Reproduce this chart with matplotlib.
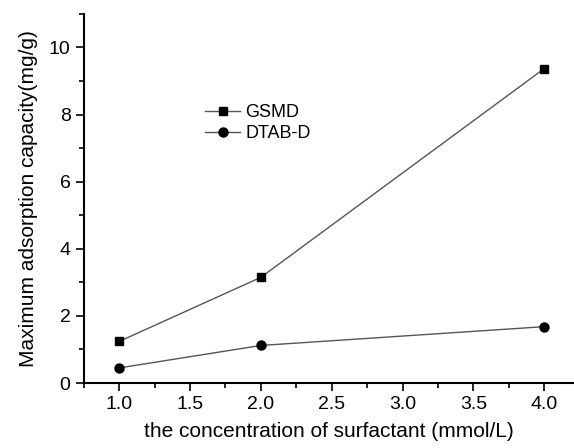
import matplotlib
matplotlib.use("Agg")
import matplotlib.pyplot as plt
from matplotlib.ticker import MultipleLocator

conc = [1.0, 2.0, 4.0]
gsmd = [1.24, 3.15, 9.37]
dtab_d = [0.45, 1.12, 1.68]

plt.rcParams['font.family'] = ['Liberation Sans', 'DejaVu Sans']

fig = plt.figure(figsize=(5.74, 4.48), dpi=100)
ax = fig.add_axes([0.146, 0.145, 0.854, 0.824])

ax.plot(conc, gsmd, color="#555555", linewidth=1, marker='s', markersize=5.5,
        markerfacecolor='black', markeredgecolor='black', label='GSMD')
ax.plot(conc, dtab_d, color="#555555", linewidth=1, marker='o', markersize=6.5,
        markerfacecolor='black', markeredgecolor='black', label='DTAB-D')

ax.set_xlim(0.75, 4.21)
ax.set_ylim(0, 11)
ax.xaxis.set_major_locator(MultipleLocator(0.5))
ax.xaxis.set_minor_locator(MultipleLocator(0.25))
ax.yaxis.set_major_locator(MultipleLocator(2))
ax.yaxis.set_minor_locator(MultipleLocator(1))
ax.xaxis.set_major_formatter(plt.FormatStrFormatter('%.1f'))

for side in ['top', 'right']:
    ax.spines[side].set_visible(False)
for side in ['left', 'bottom']:
    ax.spines[side].set_linewidth(1.5)
ax.tick_params(which='major', direction='out', length=6, width=1.2, labelsize=14)
ax.tick_params(which='minor', direction='out', length=3.5, width=1.2)

ax.set_xlabel('the concentration of surfactant (mmol/L)', fontsize=15, labelpad=6)
ax.set_ylabel('Maximum adsorption capacity(mg/g)', fontsize=15, labelpad=8)

ax.legend(loc='upper left', bbox_to_anchor=(0.215, 0.80), frameon=False,
          fontsize=13, handlelength=1.9, handletextpad=0.3, labelspacing=0.25)

fig.savefig('out.png', dpi=100)
